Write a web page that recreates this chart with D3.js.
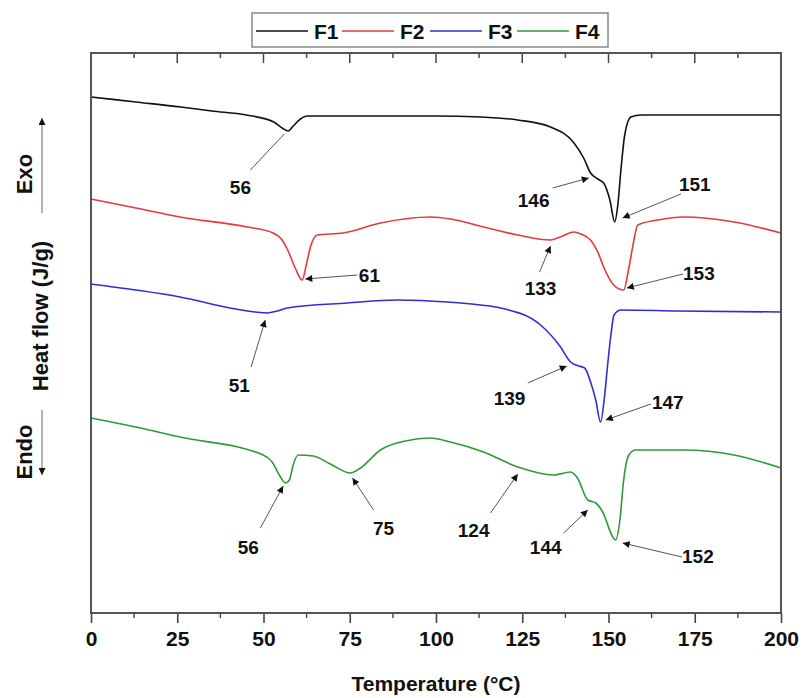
<!DOCTYPE html>
<html>
<head>
<meta charset="utf-8">
<script src="https://cdn.jsdelivr.net/npm/d3@7"></script>
<style>
  body { margin: 0; background: #fff; }
  text { font-family: "Liberation Sans", Arial, sans-serif; font-weight: bold; }
</style>
</head>
<body>
<div id="chart"></div>
<script>
// Curvas DSC: [temperatura (°C), flujo de calor (u.a.)]
const f1 = [[0,51.6],[13,51.1],[26,50.6],[35,50.2],[45,49.8],[53,49.1],[55.4,48.5],[57.2,48.2],[58.6,48.7],[60.7,49.4],[62.7,49.7],[75,49.7],[100,49.7],[113,49.6],[123.7,49.3],[133.2,48.6],[140,47.0],[142.8,45.5],[144.8,44.0],[146.9,43.4],[148.6,43.0],[150.4,41.3],[151.8,39.1],[152.7,40.8],[153.6,44.3],[154.7,47.8],[156.5,49.6],[159.4,49.8],[200,49.8]];
const f2 = [[0,41.4],[13,40.5],[25.8,39.6],[45.3,38.6],[52.8,38.0],[55.4,37.3],[57,36.3],[59.2,34.5],[61.2,33.3],[62.4,34.8],[63.6,36.6],[65.6,37.8],[73.1,38.0],[83.9,39.0],[98.4,39.6],[104.2,39.4],[113.8,38.6],[123.7,37.8],[133.2,37.3],[136.7,37.7],[140,38.1],[142,37.9],[144.8,37.3],[146.9,36.1],[148.6,34.6],[151.5,32.8],[154.4,32.3],[155.9,34.5],[157,36.6],[158.5,38.8],[164.3,39.3],[171.8,39.6],[186.4,39.1],[200,38.0]];
const f3 = [[0,32.9],[13,32.3],[25.8,31.6],[40.3,30.5],[47.6,30.1],[51.1,30.0],[54,30.2],[56.9,30.5],[74.3,31.0],[88.8,31.3],[103.3,31.1],[112.9,30.8],[118.7,30.5],[130.3,28.8],[136.1,26.6],[139,25.1],[141.4,24.7],[143.1,24.5],[144.8,23.1],[146.3,21.3],[147.7,19.1],[148.9,21.8],[149.8,25.0],[150.7,27.8],[151.6,29.8],[153.6,30.3],[170,30.2],[200,30.1]];
const f4 = [[0,19.5],[13,18.6],[25.8,17.6],[49.9,15.8],[52.5,15.1],[54.9,13.6],[56.4,13.0],[57.5,13.3],[58.6,14.8],[60.1,15.8],[64.4,15.7],[69.4,14.9],[75.2,14.0],[78.1,14.5],[83.9,16.3],[91.1,17.2],[98.4,17.5],[104.2,17.1],[113.8,16.1],[123.7,14.6],[134.1,13.8],[139,14.1],[141,13.5],[144,11.3],[146.3,11.0],[148,10.3],[152.1,7.3],[153.3,9.3],[154.4,13.3],[155.9,15.8],[157.9,16.3],[171.8,16.3],[186.4,15.8],[200,14.5]];

const seriesNames = ["F1", "F2", "F3", "F4"];
const seriesColors = ["#111111", "#e5393b", "#2e2ed2", "#2f9a36"];
const xTicks = [0, 25, 50, 75, 100, 125, 150, 175, 200];

// Etiquetas: texto, posición del texto, inicio y fin de la flecha
const annotations = [
  { label: "56",  text: [43.3, 42.6],  from: [46.2, 44.3],  to: [56, 47.9],     head: false },
  { label: "146", text: [128.3, 41.3], from: [133.8, 42.5], to: [144.3, 43.5],  head: true },
  { label: "151", text: [175, 42.9],   from: [171, 41.9],   to: [154.1, 39.5],  head: true },
  { label: "61",  text: [80.7, 33.8],  from: [77.2, 33.8],  to: [62.1, 33.4],   head: true },
  { label: "133", text: [130.3, 32.5], from: [130, 34.1],   to: [133.2, 36.7],  head: true },
  { label: "153", text: [176.2, 34.0], from: [171.6, 33.9], to: [155.3, 32.5],  head: true },
  { label: "51",  text: [43, 22.8],    from: [46.4, 24.6],  to: [50.5, 29.3],   head: true },
  { label: "139", text: [121.3, 21.5], from: [126.6, 23],   to: [137.9, 24.7],  head: true },
  { label: "147", text: [167.2, 21.1], from: [162.3, 20.9], to: [149.2, 19.3],  head: true },
  { label: "56",  text: [45.6, 6.6],   from: [49.1, 8.5],   to: [55.7, 12.7],   head: true },
  { label: "75",  text: [84.8, 8.5],   from: [81.9, 10.3],  to: [75.8, 13.5],   head: true },
  { label: "124", text: [110.9, 8.3],  from: [115.8, 10],   to: [123.7, 13.9],  head: true },
  { label: "144", text: [131.8, 6.6],  from: [137, 8],      to: [144, 10.3],    head: true },
  { label: "152", text: [175.9, 5.7],  from: [171.3, 5.6],  to: [154.1, 7],     head: true }
];

const width = 803, height = 698;
const margin = { top: 53, right: 22, bottom: 85, left: 91 };

const svg = d3.select("#chart").append("svg")
  .attr("width", width)
  .attr("height", height);

const x = d3.scaleLinear().domain([0, 200]).range([margin.left, width - margin.right]);
const y = d3.scaleLinear().domain([0, 56]).range([height - margin.bottom, margin.top]);

svg.append("defs").append("marker")
  .attr("id", "head")
  .attr("viewBox", "0 0 10 10")
  .attr("refX", 10).attr("refY", 5)
  .attr("markerWidth", 10).attr("markerHeight", 7)
  .attr("markerUnits", "userSpaceOnUse")
  .attr("orient", "auto")
  .append("path")
  .attr("d", "M0,0L10,5L0,10Z")
  .attr("fill", "#111");

// Curvas
const line = d3.line().x(d => x(d[0])).y(d => y(d[1])).curve(d3.curveMonotoneX);
const allSeries = [f1, f2, f3, f4];
svg.append("g").selectAll("path")
  .data(allSeries)
  .join("path")
  .attr("fill", "none")
  .attr("stroke", (d, i) => seriesColors[i])
  .attr("stroke-width", 1.6)
  .attr("d", line);

// Ejes
const minorTicks = d3.range(12.5, 200, 25);
const axisColor = "#444";

const bottom = svg.append("g").attr("transform", `translate(0,${y(0)})`);
bottom.call(d3.axisBottom(x).tickValues(xTicks).tickSize(10).tickPadding(8))
  .call(g => g.select(".domain").remove())
  .call(g => g.selectAll("text").attr("font-size", 21).attr("fill", "#111")
    .attr("font-family", "'Liberation Sans', Arial, sans-serif").attr("font-weight", "bold"));
bottom.call(g => g.selectAll(".tick line").attr("stroke", axisColor).attr("stroke-width", 1.6));
bottom.selectAll(".minor").data(minorTicks).join("line")
  .attr("x1", d => x(d)).attr("x2", d => x(d))
  .attr("y1", 0).attr("y2", 5)
  .attr("stroke", axisColor).attr("stroke-width", 1.4);

// Marcas superiores hacia dentro
svg.append("g").selectAll("line")
  .data(xTicks.map(d => [d, 10]).concat(minorTicks.map(d => [d, 5])))
  .join("line")
  .attr("x1", d => x(d[0])).attr("x2", d => x(d[0]))
  .attr("y1", y(56)).attr("y2", d => y(56) + d[1])
  .attr("stroke", axisColor).attr("stroke-width", 1.5);

// Marco
svg.append("rect")
  .attr("x", x(0)).attr("y", y(56))
  .attr("width", x(200) - x(0)).attr("height", y(0) - y(56))
  .attr("fill", "none").attr("stroke", "#555").attr("stroke-width", 2);

// Anotaciones
const ann = svg.append("g");
ann.selectAll("line")
  .data(annotations)
  .join("line")
  .attr("x1", d => x(d.from[0])).attr("y1", d => y(d.from[1]))
  .attr("x2", d => x(d.to[0])).attr("y2", d => y(d.to[1]))
  .attr("stroke", "#555").attr("stroke-width", 1)
  .attr("marker-end", d => d.head ? "url(#head)" : null);
ann.selectAll("text")
  .data(annotations)
  .join("text")
  .attr("x", d => x(d.text[0])).attr("y", d => y(d.text[1]))
  .attr("dy", "0.36em")
  .attr("text-anchor", "middle")
  .attr("font-size", 19)
  .attr("fill", "#111")
  .text(d => d.label);

// Títulos de ejes
svg.append("text")
  .attr("x", (x(0) + x(200)) / 2).attr("y", 691)
  .attr("text-anchor", "middle")
  .attr("font-size", 21).attr("fill", "#111")
  .text("Temperature (°C)");

svg.append("text")
  .attr("transform", "translate(48,316) rotate(-90)")
  .attr("text-anchor", "middle")
  .attr("font-size", 22).attr("fill", "#111")
  .text("Heat flow (J/g)");

svg.append("text")
  .attr("transform", "translate(32,174) rotate(-90)")
  .attr("text-anchor", "middle")
  .attr("font-size", 22).attr("fill", "#111")
  .text("Exo");

svg.append("text")
  .attr("transform", "translate(32,452) rotate(-90)")
  .attr("text-anchor", "middle")
  .attr("font-size", 22).attr("fill", "#111")
  .text("Endo");

svg.append("line")
  .attr("x1", 42).attr("y1", 213).attr("x2", 42).attr("y2", 118)
  .attr("stroke", "#666").attr("stroke-width", 1)
  .attr("marker-end", "url(#head)");
svg.append("line")
  .attr("x1", 42).attr("y1", 410).attr("x2", 42).attr("y2", 475)
  .attr("stroke", "#666").attr("stroke-width", 1)
  .attr("marker-end", "url(#head)");

// Leyenda
const legend = svg.append("g");
legend.append("rect")
  .attr("x", 252).attr("y", 13).attr("width", 356).attr("height", 34)
  .attr("fill", "#fff").attr("stroke", "#888").attr("stroke-width", 1.5);
const legendX = [256, 342, 430, 517];
seriesNames.forEach((name, i) => {
  legend.append("line")
    .attr("x1", legendX[i]).attr("x2", legendX[i] + 52)
    .attr("y1", 31).attr("y2", 31)
    .attr("stroke", seriesColors[i]).attr("stroke-width", 1.5);
  legend.append("text")
    .attr("x", legendX[i] + 58).attr("y", 31).attr("dy", "0.36em")
    .attr("font-size", 21).attr("fill", "#111")
    .text(name);
});
</script>
</body>
</html>
